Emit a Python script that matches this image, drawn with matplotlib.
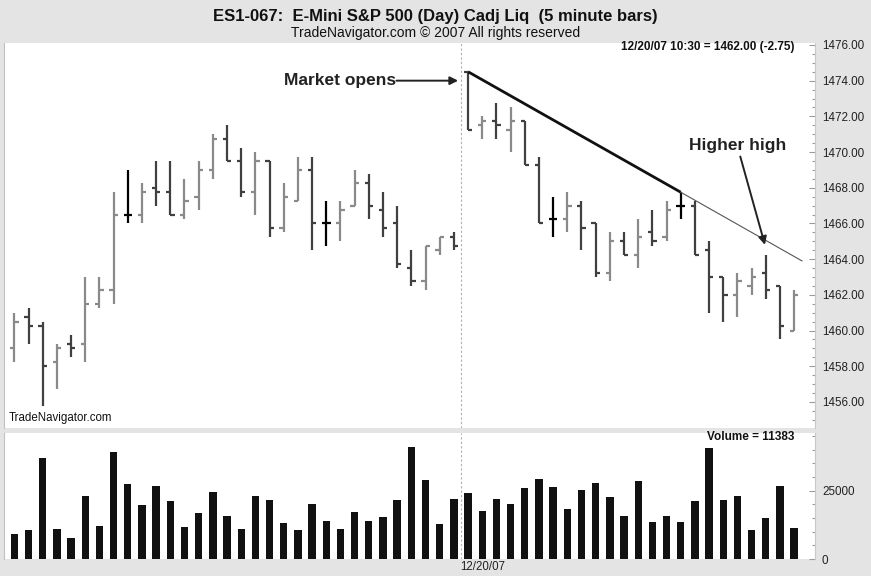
import matplotlib
matplotlib.use("Agg")
import matplotlib.pyplot as plt
from matplotlib.ticker import MultipleLocator, FormatStrFormatter
import numpy as np

plt.rcParams['font.family'] = ['Liberation Sans', 'DejaVu Sans']

# 5 minute OHLC bars, ES 12/19 - 12/20/07
opens = [1459.0, 1460.75, 1460.25, 1458.25, 1459.25, 1459.25, 1461.5, 1462.25, 1466.5, 1466.5,
         1468.0, 1467.75, 1466.5, 1467.5, 1469.0, 1470.75, 1469.5, 1467.75, 1469.5, 1465.75,
         1467.25, 1469.0, 1466.0, 1466.0, 1467.0, 1468.25, 1466.75, 1466.0, 1463.5, 1462.75,
         1464.5, 1465.25, 1474.5, 1471.5, 1471.75, 1471.25, 1471.75, 1469.25, 1466.25, 1466.25,
         1467.0, 1466.0, 1463.25, 1465.0, 1464.25, 1465.5, 1465.25, 1467.0, 1467.0, 1464.5,
         1463.0, 1462.0, 1462.5, 1463.25, 1462.5, 1460.0]
highs = [1461.0, 1461.25, 1460.5, 1459.25, 1459.75, 1463.0, 1463.0, 1467.75, 1469.0, 1468.25,
         1469.5, 1469.5, 1468.5, 1469.5, 1471.0, 1471.5, 1470.25, 1470.0, 1469.5, 1468.25,
         1469.75, 1469.75, 1467.25, 1467.25, 1469.0, 1468.75, 1467.75, 1467.0, 1464.5, 1464.75,
         1465.25, 1465.5, 1474.5, 1472.0, 1472.75, 1472.5, 1471.75, 1469.75, 1467.5, 1467.75,
         1467.25, 1466.0, 1465.5, 1465.5, 1466.25, 1466.75, 1467.25, 1467.75, 1467.25, 1465.0,
         1463.0, 1463.25, 1463.5, 1464.25, 1462.5, 1462.25]
lows = [1458.25, 1459.25, 1455.75, 1456.75, 1458.5, 1458.25, 1461.25, 1461.5, 1466.0, 1466.0,
        1467.0, 1466.5, 1466.25, 1466.75, 1468.5, 1469.5, 1467.5, 1466.5, 1465.25, 1465.5,
        1467.25, 1464.5, 1464.75, 1465.0, 1467.0, 1466.25, 1465.25, 1463.5, 1462.5, 1462.25,
        1464.25, 1464.5, 1471.25, 1470.75, 1470.75, 1470.0, 1469.25, 1466.0, 1465.25, 1465.5,
        1464.5, 1463.0, 1462.75, 1464.25, 1463.5, 1464.75, 1465.0, 1466.25, 1464.25, 1461.0,
        1460.5, 1460.75, 1462.0, 1461.75, 1459.5, 1460.0]
closes = [1460.5, 1460.25, 1458.0, 1459.0, 1459.0, 1461.5, 1462.25, 1466.5, 1466.5, 1467.75,
          1467.75, 1466.5, 1467.25, 1469.0, 1470.75, 1469.5, 1467.75, 1469.5, 1465.75, 1467.5,
          1469.0, 1466.0, 1466.0, 1466.75, 1468.25, 1467.0, 1465.75, 1463.75, 1462.75, 1464.75,
          1465.25, 1464.75, 1471.25, 1471.75, 1471.5, 1471.75, 1469.25, 1466.0, 1466.25, 1467.0,
          1465.75, 1463.25, 1465.0, 1464.25, 1465.25, 1465.0, 1466.75, 1467.0, 1464.25, 1463.0,
          1462.0, 1462.75, 1463.0, 1462.25, 1460.25, 1462.0]
volumes = [9030, 10610, 36970, 10980, 7810, 22940, 12200, 39040, 27450, 19760,
           26600, 21110, 11830, 16710, 24640, 15860, 10980, 22940, 21470, 13050,
           10610, 20250, 13910, 10980, 17080, 13910, 15490, 21470, 40990, 29040,
           12690, 21840, 24280, 17450, 21840, 20250, 25860, 29400, 26230, 18180,
           25380, 27820, 22690, 15860, 28670, 13420, 15860, 13420, 21110, 40630,
           21470, 23060, 10610, 15010, 26600, 11383]

session_start = 32          # first bar of 12/20/07
touch_bar = 47              # second point of the trend line

x = np.arange(len(opens))
o = np.array(opens); h = np.array(highs); l = np.array(lows); c = np.array(closes)
colors = np.where(c > o, '#8a8a8a', np.where(c < o, '#404040', '#000000'))

W, H = 871, 576
bg = '#e4e4e4'
fig = plt.figure(figsize=(W / 100, H / 100), dpi=100, facecolor=bg)
ax = fig.add_axes([4 / W, 1 - 428 / H, 811 / W, 385 / H])
axv = fig.add_axes([4 / W, 1 - 559 / H, 811 / W, 126 / H], sharex=ax)

# price bars
tick = 0.3
ax.vlines(x, l, h, colors=colors, lw=1.6)
ax.hlines(o, x - tick, x, colors=colors, lw=1.6)
ax.hlines(c, x, x + tick, colors=colors, lw=1.6)

ax.set_xlim(-0.73, 56.47)
ax.set_ylim(1454.54, 1476.11)

# trend line: thick between the two highs, thin extension
slope = (h[touch_bar] - h[session_start]) / (touch_bar - session_start)
ax.plot([session_start, touch_bar], [h[session_start], h[touch_bar]], color='#111111', lw=2.0,
        solid_capstyle='butt')
x_end = 55.55
ax.plot([touch_bar, x_end], [h[touch_bar], h[touch_bar] + slope * (x_end - touch_bar)],
        color='#555555', lw=0.8)

# session divider
for a in (ax, axv):
    a.axvline(session_start - 0.5, color='#b0b0b0', lw=0.8, ls=(0, (2, 2)))

# annotations
ax.annotate('', xy=(31.3, 1474.0), xytext=(26.95, 1474.0),
            arrowprops=dict(arrowstyle='-|>', color='#222222', lw=1.4, mutation_scale=12,
                            shrinkA=0, shrinkB=0))
ax.text(26.9, 1474.0, 'Market opens', ha='right', va='center', fontsize=12.5,
        fontweight='bold', color='#222222')
ax.annotate('', xy=(52.94, 1464.8), xytext=(51.2, 1469.75),
            arrowprops=dict(arrowstyle='-|>', color='#222222', lw=1.4, mutation_scale=12,
                            shrinkA=0, shrinkB=0))
ax.text(51.0, 1470.35, 'Higher high', ha='center', va='center', fontsize=12.5,
        fontweight='bold', color='#222222')
ax.text(0.006, 0.01, 'TradeNavigator.com', transform=ax.transAxes, ha='left', va='bottom',
        fontsize=8.3, color='#111111')

# volume bars
axv.bar(x, volumes, width=0.52, color='#111111')
axv.set_ylim(0, 46100)

# axes styling
for a in (ax, axv):
    a.set_facecolor('white')
    a.yaxis.tick_right()
    a.tick_params(axis='y', which='major', direction='in', length=4, width=0.8,
                  color='#9a9a9a', labelsize=8.4, labelcolor='#222222', pad=5)
    a.tick_params(axis='y', which='minor', direction='in', length=2, width=0.8, color='#9a9a9a')
    a.tick_params(axis='x', which='both', bottom=False, labelbottom=False)
    for side in ('top', 'bottom'):
        a.spines[side].set_visible(False)
    a.spines['left'].set_color('#c0c0c0')
    a.spines['right'].set_color('#c8c8c8')
    a.spines['left'].set_linewidth(0.8)
    a.spines['right'].set_linewidth(0.8)

ax.yaxis.set_major_locator(MultipleLocator(2))
ax.yaxis.set_minor_locator(MultipleLocator(0.5))
ax.yaxis.set_major_formatter(FormatStrFormatter('%.2f'))
axv.yaxis.set_major_locator(MultipleLocator(25000))
axv.yaxis.set_minor_locator(MultipleLocator(5000))

# header texts
fig.text(W / 2 / W, 1 - 17 / H, 'ES1-067:  E-Mini S&P 500 (Day) Cadj Liq  (5 minute bars)',
         ha='center', va='center', fontsize=12, fontweight='bold', color='#111111')
fig.text(436 / W, 1 - 33 / H, 'TradeNavigator.com \u00a9 2007 All rights reserved',
         ha='center', va='center', fontsize=10, color='#111111')
fig.text(794 / W, 1 - 47 / H, '12/20/07 10:30 = 1462.00 (-2.75)', ha='right', va='center',
         fontsize=8.5, fontweight='bold', color='#111111')
fig.text(794 / W, 1 - 437 / H, 'Volume = %d' % volumes[-1], ha='right', va='center',
         fontsize=8.5, fontweight='bold', color='#111111')
fig.text(460 / W, 1 - 567 / H, '12/20/07', ha='left', va='center', fontsize=8.3,
         color='#222222')

fig.savefig('out.png', dpi=100, facecolor=bg)
